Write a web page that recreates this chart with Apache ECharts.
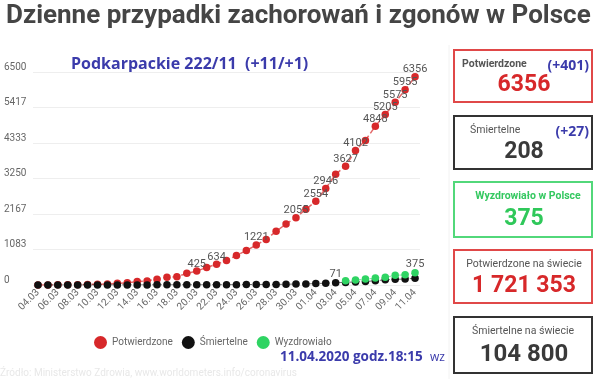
<!DOCTYPE html>
<html><head><meta charset="utf-8">
<script src="https://cdn.jsdelivr.net/npm/echarts@6/dist/echarts.min.js"></script>
<style>html,body{margin:0;padding:0;background:#fff}#c{width:600px;height:379px}</style>
</head><body><div id="c"></div>
<script>
const dates = ['04.03','05.03','06.03','07.03','08.03','09.03','10.03','11.03','12.03','13.03','14.03','15.03','16.03','17.03','18.03','19.03','20.03','21.03','22.03','23.03','24.03','25.03','26.03','27.03','28.03','29.03','30.03','31.03','01.04','02.04','03.04','04.04','05.04','06.04','07.04','08.04','09.04','10.04','11.04'];
const confirmed = [1,1,5,5,11,17,22,31,51,68,104,125,177,238,251,355,425,536,634,749,901,1051,1221,1389,1638,1862,2055,2311,2554,2946,3383,3627,4102,4413,4848,5205,5575,5955,6356];
const deaths = [0,0,0,0,0,0,0,0,1,2,3,3,4,5,5,5,5,5,7,8,10,14,16,17,18,22,31,33,43,57,71,79,94,107,129,159,174,181,208];
const recovered = [null,null,null,null,null,null,null,null,null,null,null,null,null,null,null,null,null,null,null,null,null,null,null,null,null,null,null,null,null,null,null,130,150,180,210,235,295,310,375];
const confirmedLabelled = ['20.03','22.03','26.03','30.03','01.04','02.04','04.04','05.04','07.04','08.04','09.04','10.04','11.04'];
const deathsLabelled = ['03.04'];
const recoveredLabelled = ['11.04'];
const yTicks = ['0','1083','2167','3250','4333','5417','6500'];
const seriesNames = ['Potwierdzone','Śmiertelne','Wyzdrowiało'];
const titleText = 'Dzienne przypadki zachorowań i zgonów w Polsce';
const regionNote = 'Podkarpackie 222/11  (+11/+1)';
const stampText = '11.04.2020 godz.18:15';
const stampSuffix = 'wz';
const sourceText = 'Źródło: Ministerstwo Zdrowia, www.worldometers.info/coronavirus';
const boxTitles = ['Potwierdzone','Śmiertelne','Wyzdrowiało w Polsce','Potwierdzone na świecie','Śmiertelne na świecie'];
const boxValues = ['6356','208','375','1 721 353','104 800'];
const boxDeltas = ['(+401)','(+27)','','',''];

const RED='#d7282a', BLACK='#111111', GREEN='#2fd463', BLUE='#3b3bab';
function mk(vals, labelled){
  return vals.map((v,i)=>({value:v, label:{show: labelled.indexOf(dates[i])>=0}}));
}
const boxes = [
  {top:50,h:52,border:'#e04848',titleColor:'#555',titleW:'bold',titleX:462,titleAlign:'left',valColor:RED,vs:23},
  {top:116,h:53,border:'#333',titleColor:'#555',titleW:'normal',titleX:470,titleAlign:'left',valColor:'#3a3a3a',vs:23},
  {top:182,h:55,border:'#52d87a',titleColor:'#34c860',titleW:'bold',titleX:528,titleAlign:'center',valColor:'#2fc85a',vs:23},
  {top:250,h:53,border:'#e04848',titleColor:'#555',titleW:'normal',titleX:524,titleAlign:'center',valColor:RED,vs:23},
  {top:317,h:56,border:'#333',titleColor:'#555',titleW:'normal',titleX:523,titleAlign:'center',valColor:'#3a3a3a',vs:24}
];
const graphics = [
  {type:'text',left:6,top:3,style:{text:titleText,font:'bold 26px Roboto',fill:'#454545'}},
  {type:'text',left:71,top:56,style:{text:regionNote,font:'bold 16px "Open Sans"',fill:BLUE}},
  {type:'text',left:280,top:350,style:{text:stampText,font:'bold 13.5px "Open Sans"',fill:BLUE}},
  {type:'text',left:430,top:352,style:{text:stampSuffix,font:'12px "Open Sans"',fill:BLUE}},
  {type:'text',left:0,top:368,style:{text:sourceText,font:'10px Roboto',fill:'#e8e8e8'}},
  {type:'line',shape:{x1:449,y1:45,x2:449,y2:379},style:{stroke:'#f2f2f2',lineWidth:1}}
];
boxes.forEach((b,i)=>{
  graphics.push({type:'rect',shape:{x:454,y:b.top,width:138,height:b.h},style:{fill:'#fff',stroke:b.border,lineWidth:2}});
  const ty = b.top + 14;
  graphics.push({type:'text',x:b.titleX,y:ty,style:{text:boxTitles[i],font:b.titleW+' 10.5px Roboto',fill:b.titleColor,align:b.titleAlign,verticalAlign:'middle'}});
  graphics.push({type:'text',x:524,y:b.top+b.h*0.68,style:{text:boxValues[i],font:'bold '+b.vs+'px Roboto',fill:b.valColor,align:'center',verticalAlign:'middle'}});
  if(boxDeltas[i]) graphics.push({type:'text',x:589,y:ty+2,style:{text:boxDeltas[i],font:'bold 14px "Open Sans"',fill:BLUE,align:'right',verticalAlign:'middle'}});
});

const chart = echarts.init(document.getElementById('c'),null,{renderer:'canvas'});
chart.setOption({
  animation:false,
  textStyle:{fontFamily:'Roboto'},
  grid:{left:33,right:180,top:72,bottom:94,containLabel:false},
  legend:{left:89,top:331,itemWidth:13,itemHeight:13,itemGap:9,icon:'circle',
    textStyle:{color:'#666',fontSize:10},data:seriesNames},
  xAxis:{type:'category',data:dates,boundaryGap:true,
    axisLine:{show:false},axisTick:{show:false},
    axisLabel:{interval:1,rotate:45,fontSize:10,color:'#666',margin:6}},
  yAxis:{type:'value',min:0,max:6500,interval:6500/6,
    axisLine:{show:false},axisTick:{show:false},
    splitLine:{lineStyle:{color:'#eeeeee'}},
    axisLabel:{align:'left',margin:29,verticalAlign:'bottom',fontSize:10,color:'#666',
      formatter:(v,i)=>yTicks[i]}},
  series:[
    {name:seriesNames[0],type:'line',data:mk(confirmed,confirmedLabelled),symbol:'circle',symbolSize:7.5,showAllSymbol:true,
     labelLayout:{hideOverlap:false},
     itemStyle:{color:RED},lineStyle:{color:RED,width:1.5,type:'dashed',opacity:0.7},
     label:{position:'top',fontSize:11,color:'#555',distance:-2},z:2},
    {name:seriesNames[1],type:'line',data:mk(deaths,deathsLabelled),symbol:'circle',symbolSize:7.5,showAllSymbol:true,
     labelLayout:{hideOverlap:false},
     itemStyle:{color:BLACK},lineStyle:{color:BLACK,width:1,type:'dashed',opacity:0.6},
     label:{position:'top',fontSize:11,color:'#555',distance:-1},z:3},
    {name:seriesNames[2],type:'line',data:mk(recovered,recoveredLabelled),symbol:'circle',symbolSize:7.5,showAllSymbol:true,
     labelLayout:{hideOverlap:false},
     itemStyle:{color:GREEN},lineStyle:{color:GREEN,width:1,type:'dashed',opacity:0.6},
     label:{position:'top',fontSize:11,color:'#555',distance:-1},z:4}
  ],
  graphic:graphics
});
</script></body></html>
